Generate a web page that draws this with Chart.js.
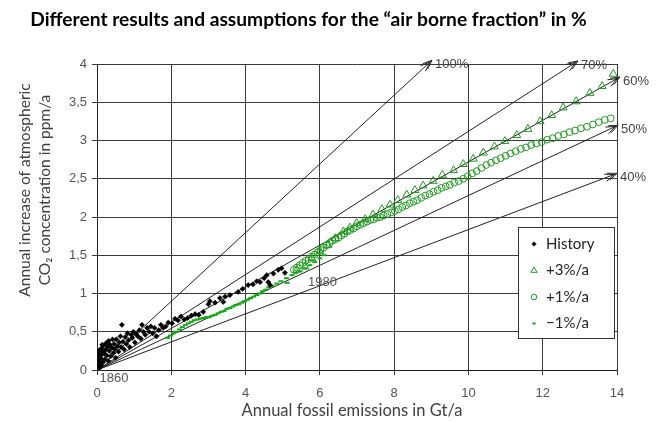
<!DOCTYPE html>
<html>
<head>
<meta charset="utf-8">
<script src="https://cdn.jsdelivr.net/npm/chart.js@4.4.1/dist/chart.umd.min.js"></script>
<style>
  body { margin: 0; background: #fff; }
  canvas { display: block; }
</style>
</head>
<body>
<canvas id="afChart" width="657" height="423"></canvas>
<script>
// History 1860..1990: fossil emissions (Gt/a) vs. CO2 rise (ppm/a)
var histEmis = [0.02, 0.03, 0.04, 0.05, 0.06, 0.07, 0.08, 0.09, 0.10, 0.11, 0.12, 0.13, 0.14, 0.15, 0.16, 0.17,
  0.19, 0.21, 0.22, 0.24, 0.26, 0.28, 0.30, 0.31, 0.33, 0.35, 0.37, 0.40, 0.42, 0.44, 0.46, 0.48, 0.50, 0.52,
  0.55, 0.58, 0.60, 0.63, 0.65, 0.67, 0.70, 0.73, 0.76, 0.79, 0.82, 0.85, 0.88, 0.92, 0.95, 0.98, 1.02, 1.06,
  1.10, 1.14, 1.18, 1.21, 1.25, 1.30, 1.35, 1.40, 1.45, 1.50, 1.55, 1.60, 1.66, 1.72, 1.78, 1.85, 1.92, 2.02,
  2.10, 2.18, 2.26, 2.35, 2.44, 2.54, 2.64, 2.74, 2.86, 3.00, 3.04, 3.18, 3.31, 3.40, 3.45, 3.58, 3.80, 3.92,
  4.07, 4.20, 4.30, 4.39, 4.50, 4.57, 4.61, 4.66, 4.75, 4.88, 4.97, 5.06];
var histRise = [0.05, 0.16, 0.12, 0.24, 0.20, 0.03, 0.08, 0.27, 0.15, 0.06, 0.28, 0.20, 0.33, 0.10, 0.24, 0.32,
  0.22, 0.14, 0.26, 0.35, 0.19, 0.30, 0.12, 0.38, 0.25, 0.33, 0.18, 0.29, 0.40, 0.22, 0.34, 0.27, 0.16, 0.40,
  0.31, 0.24, 0.36, 0.44, 0.30, 0.59, 0.37, 0.27, 0.43, 0.34, 0.48, 0.39, 0.30, 0.46, 0.42, 0.50, 0.36, 0.47,
  0.44, 0.52, 0.41, 0.59, 0.50, 0.46, 0.55, 0.50, 0.57, 0.48, 0.55, 0.44, 0.52, 0.59, 0.55, 0.57, 0.62, 0.61,
  0.67, 0.65, 0.70, 0.66, 0.68, 0.71, 0.73, 0.72, 0.76, 0.86, 0.90, 0.88, 0.94, 0.89, 0.96, 0.98, 1.02, 1.06,
  1.11, 1.12, 1.16, 1.15, 1.20, 1.24, 1.15, 1.11, 1.26, 1.31, 1.33, 1.27];

// scenario -1%/a
var minus1Emis = [1.90, 1.98, 2.06, 2.14, 2.22, 2.30, 2.38, 2.46, 2.54, 2.62, 2.70, 2.78, 2.86, 2.94, 3.02, 3.10,
  3.18, 3.26, 3.34, 3.42, 3.50, 3.58, 3.66, 3.74, 3.82, 3.90, 3.98, 4.06, 4.14, 4.22, 4.30, 4.38, 4.46, 4.54,
  4.62, 4.72, 4.84, 4.95, 5.10, 5.12, 5.25, 5.35, 5.47, 5.60, 5.73, 5.86, 6.00, 6.12];
var minus1Rise = [0.42, 0.45, 0.48, 0.50, 0.53, 0.56, 0.59, 0.61, 0.63, 0.65, 0.66, 0.67, 0.68, 0.69, 0.69, 0.71,
  0.72, 0.74, 0.76, 0.77, 0.80, 0.81, 0.83, 0.85, 0.86, 0.88, 0.90, 0.92, 0.94, 0.96, 0.98, 1.00, 1.03, 1.05,
  1.08, 1.10, 1.13, 1.16, 1.20, 1.14, 1.24, 1.27, 1.29, 1.33, 1.37, 1.41, 1.46, 1.50];

// scenario +3%/a
var plus3Emis = [5.38, 5.60, 5.78, 6.00, 6.22, 6.41, 6.63, 6.81, 6.99, 7.22, 7.43, 7.67, 7.89, 8.10, 8.34, 8.56,
  8.78, 9.05, 9.30, 9.60, 9.86, 10.13, 10.40, 10.70, 10.98, 11.30, 11.60, 11.93, 12.24, 12.55, 12.90, 13.27,
  13.60, 13.90];
var plus3Rise = [1.31, 1.35, 1.46, 1.55, 1.63, 1.72, 1.81, 1.86, 1.92, 1.97, 2.03, 2.10, 2.16, 2.22, 2.29, 2.35,
  2.41, 2.47, 2.55, 2.61, 2.69, 2.76, 2.84, 2.92, 2.99, 3.07, 3.15, 3.25, 3.33, 3.43, 3.51, 3.62, 3.71, 3.87];

// scenario +1%/a
var plus1Emis = [5.30, 5.38, 5.46, 5.54, 5.62, 5.70, 5.78, 5.86, 5.94, 6.02, 6.10, 6.18, 6.26, 6.34, 6.42, 6.50,
  6.58, 6.66, 6.74, 6.82, 6.91, 7.00, 7.09, 7.18, 7.27, 7.36, 7.45, 7.54, 7.63, 7.72, 7.82, 7.92, 8.02, 8.12,
  8.22, 8.32, 8.42, 8.52, 8.62, 8.73, 8.84, 8.95, 9.06, 9.17, 9.28, 9.39, 9.50, 9.62, 9.74, 9.86, 9.98, 10.10,
  10.22, 10.35, 10.48, 10.61, 10.74, 10.87, 11.00, 11.13, 11.27, 11.41, 11.55, 11.69, 11.83, 11.97, 12.12,
  12.27, 12.42, 12.57, 12.72, 12.87, 13.03, 13.19, 13.35, 13.51, 13.67, 13.83];
var plus1Rise = [1.31, 1.34, 1.37, 1.40, 1.43, 1.45, 1.48, 1.51, 1.54, 1.57, 1.60, 1.63, 1.66, 1.69, 1.71, 1.73,
  1.76, 1.78, 1.81, 1.83, 1.85, 1.88, 1.90, 1.92, 1.94, 1.96, 1.97, 1.99, 2.00, 2.02, 2.04, 2.06, 2.08, 2.10,
  2.13, 2.15, 2.18, 2.20, 2.22, 2.25, 2.28, 2.30, 2.33, 2.35, 2.38, 2.40, 2.42, 2.45, 2.47, 2.50, 2.53, 2.57,
  2.60, 2.64, 2.68, 2.71, 2.74, 2.77, 2.80, 2.83, 2.86, 2.89, 2.91, 2.94, 2.96, 2.98, 3.01, 3.03, 3.06, 3.08,
  3.11, 3.13, 3.16, 3.18, 3.21, 3.24, 3.27, 3.29];

// air borne fraction reference lines (from origin to arrow tip)
var fractionLabels = ['100%', '70%', '60%', '50%', '40%'];
var fractionEndX = [9.02, 12.95, 14.08, 14.03, 14.00];
var fractionEndY = [4.05, 4.04, 3.83, 3.20, 2.57];

var xTickLabels = ['0', '2', '4', '6', '8', '10', '12', '14'];
var yTickLabels = ['0', '0,5', '1', '1,5', '2', '2,5', '3', '3,5', '4'];
var legendNames = ['History', '+3%/a', '+1%/a', '\u22121%/a'];

var titleText = 'Different results and assumptions for the \u201cair borne fraction\u201d in %';
var green = '#1f9a1f';
var textFont = 'Lato, "Open Sans", sans-serif';

function pairs(xs, ys) {
  return xs.map(function (x, i) { return { x: x, y: ys[i] }; });
}

// title in the original is a narrow bold face, scale Lato so it spans the same width
var probe = document.createElement('canvas').getContext('2d');
probe.font = 'bold 20px ' + textFont;
var titleSize = Math.round(20 * 556 / probe.measureText(titleText).width * 10) / 10;

var datasets = [
  { label: legendNames[0], data: pairs(histEmis, histRise), pointStyle: 'rectRot', pointRadius: 2.6,
    backgroundColor: '#000', borderColor: '#000', borderWidth: 0.5 },
  { label: legendNames[1], data: pairs(plus3Emis, plus3Rise), pointStyle: 'triangle', pointRadius: 4.6,
    backgroundColor: 'rgba(0,0,0,0)', borderColor: green, borderWidth: 1 },
  { label: legendNames[2], data: pairs(plus1Emis, plus1Rise), pointStyle: 'circle', pointRadius: 3.4,
    backgroundColor: 'rgba(0,0,0,0)', borderColor: green, borderWidth: 1 },
  { label: legendNames[3], data: pairs(minus1Emis, minus1Rise), pointStyle: 'line', pointRadius: 2.4,
    backgroundColor: '#11aa11', borderColor: '#11aa11', borderWidth: 2 }
];
fractionLabels.forEach(function (lab, i) {
  datasets.push({
    label: lab, type: 'line', data: [{ x: 0, y: 0 }, { x: fractionEndX[i], y: fractionEndY[i] }],
    borderColor: '#222', borderWidth: 1, pointRadius: 0, fill: false, clip: false, isFraction: true
  });
});

var extras = {
  id: 'extras',
  afterDatasetsDraw: function (chart) {
    var ctx = chart.ctx;
    var xs = chart.scales.x, ys = chart.scales.y;
    ctx.save();
    // arrow heads + labels
    chart.data.datasets.forEach(function (ds, i) {
      if (!ds.isFraction) return;
      var pts = chart.getDatasetMeta(i).data;
      var p0 = pts[0], p1 = pts[pts.length - 1];
      var a = Math.atan2(p1.y - p0.y, p1.x - p0.x);
      ctx.strokeStyle = '#222';
      ctx.lineWidth = 1;
      [0, 3].forEach(function (back) {
        var tx = p1.x - Math.cos(a) * back, ty = p1.y - Math.sin(a) * back;
        ctx.beginPath();
        ctx.moveTo(tx - Math.cos(a - 0.38) * 10, ty - Math.sin(a - 0.38) * 10);
        ctx.lineTo(tx, ty);
        ctx.lineTo(tx - Math.cos(a + 0.38) * 10, ty - Math.sin(a + 0.38) * 10);
        ctx.stroke();
      });
      var top = fractionEndY[i] > 4;
      ctx.fillStyle = '#444';
      ctx.font = '13px "Liberation Sans", Arial, sans-serif';
      ctx.textAlign = 'left';
      ctx.textBaseline = 'middle';
      ctx.fillText(ds.label, p1.x + (top ? 5 : 3), p1.y + (top ? -7 : 4));
    });
    // year notes
    ctx.fillStyle = '#555';
    ctx.font = '13px "Liberation Sans", Arial, sans-serif';
    ctx.textAlign = 'left';
    ctx.textBaseline = 'middle';
    ctx.fillText('1860', xs.getPixelForValue(0.07), ys.getPixelForValue(-0.105));
    ctx.fillText('1980', xs.getPixelForValue(5.68), ys.getPixelForValue(1.14));
    ctx.restore();
  },
  afterDraw: function (chart) {
    var ctx = chart.ctx;
    ctx.save();
    // axis titles
    ctx.fillStyle = '#404040';
    ctx.font = '16.5px ' + textFont;
    ctx.textAlign = 'center';
    ctx.textBaseline = 'middle';
    ctx.fillText('Annual fossil emissions in Gt/a', 352, 411);
    ctx.font = '15.5px ' + textFont;
    ctx.translate(35, 190);
    ctx.rotate(-Math.PI / 2);
    ctx.fillText('Annual increase of atmospheric', 0, -10);
    ctx.fillText('CO\u2082 concentration in ppm/a', 0, 10);
    ctx.restore();

    // legend box
    ctx.save();
    var bx = 518, by = 227, bw = 96, bh = 111;
    ctx.fillStyle = '#fff';
    ctx.fillRect(bx, by, bw, bh);
    ctx.strokeStyle = '#333';
    ctx.lineWidth = 1;
    ctx.strokeRect(bx + 0.5, by + 0.5, bw, bh);
    for (var i = 0; i < 4; i++) {
      var ds = chart.data.datasets[i];
      var rowY = by + 17 + i * 26.5;
      ctx.fillStyle = ds.backgroundColor;
      ctx.strokeStyle = ds.borderColor;
      ctx.lineWidth = ds.borderWidth;
      Chart.helpers.drawPoint(ctx, { pointStyle: ds.pointStyle, radius: i === 0 ? 2.3 : (i === 1 ? 3.6 : (i === 2 ? 2.8 : 1.6)),
        rotation: 0, borderWidth: ds.borderWidth }, bx + 16, rowY);
      ctx.fillStyle = '#222';
      ctx.font = '15px ' + textFont;
      ctx.textAlign = 'left';
      ctx.textBaseline = 'middle';
      ctx.fillText(ds.label, bx + 28, rowY);
    }
    ctx.restore();
  }
};

var tickFont = { family: '"Liberation Sans", Arial, sans-serif', size: 13 };

new Chart(document.getElementById('afChart').getContext('2d'), {
  type: 'scatter',
  data: { datasets: datasets },
  options: {
    responsive: false,
    animation: false,
    devicePixelRatio: 1,
    layout: { padding: { left: 0, right: 40, top: 0, bottom: 0 } },
    plugins: {
      legend: { display: false },
      tooltip: { enabled: false },
      title: {
        display: true,
        text: titleText,
        color: '#000',
        font: { family: textFont, size: titleSize, weight: 'bold' },
        padding: { top: 19.5 - titleSize * 0.6, bottom: 44.5 - titleSize * 0.6 }
      }
    },
    scales: {
      x: {
        type: 'linear', min: 0, max: 14,
        afterFit: function (s) { s.height = 53; },
        ticks: { stepSize: 2, color: '#555', font: tickFont, padding: 11,
          callback: function (v, i) { return xTickLabels[i]; } },
        grid: { color: '#3a3a3a', lineWidth: 1, tickLength: 5 },
        border: { color: '#222', width: 1 }
      },
      y: {
        type: 'linear', min: 0, max: 4,
        afterFit: function (s) { s.width = 97; },
        ticks: { stepSize: 0.5, color: '#555', font: tickFont, padding: 5,
          callback: function (v, i) { return yTickLabels[i]; } },
        grid: { color: '#3a3a3a', lineWidth: 1, tickLength: 5 },
        border: { color: '#222', width: 1 }
      }
    }
  },
  plugins: [extras]
});
</script>
</body>
</html>
